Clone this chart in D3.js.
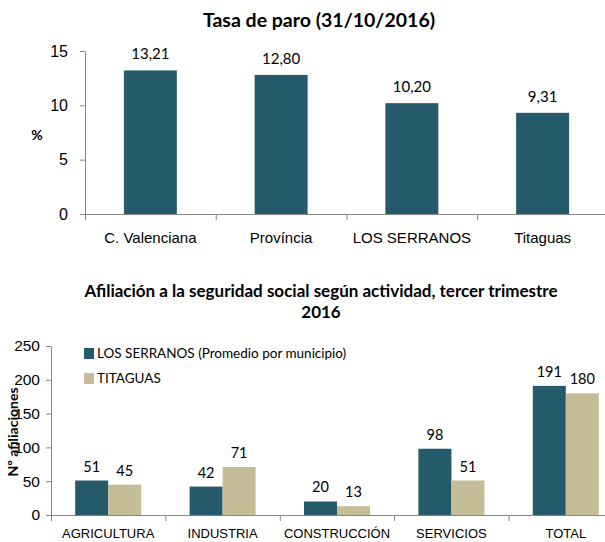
<!DOCTYPE html>
<html>
<head>
<meta charset="utf-8">
<script src="https://cdn.jsdelivr.net/npm/d3@7"></script>
<style>
  body { margin: 0; background: #fff; }
  svg { display: block; font-family: Lato, "Open Sans", sans-serif; }
  .axis path, .axis line { stroke: #868686; }
  .axis text { fill: #000; }
</style>
</head>
<body>
<script>
// top chart data
const paroCats = ["C. Valenciana", "Província", "LOS SERRANOS", "Titaguas"];
const paroValues = [13.21, 12.80, 10.20, 9.31];
const paroTicks = [0, 5, 10, 15];

// bottom chart data
const actCats = ["AGRICULTURA", "INDUSTRIA", "CONSTRUCCIÓN", "SERVICIOS", "TOTAL"];
const seriesNames = ["LOS SERRANOS (Promedio por municipio)", "TITAGUAS"];
const serranosValues = [51, 42, 20, 98, 191];
const titaguasValues = [45, 71, 13, 51, 180];
const afilTicks = [0, 50, 100, 150, 200, 250];

const teal = "#245a69", beige = "#c4bd97";
const comma = v => d3.format(".2f")(v).replace(".", ",");

const svg = d3.select("body").append("svg")
    .attr("width", 605)
    .attr("height", 542);

// ---------- Tasa de paro ----------
let paro = svg.append("g");

paro.append("text")
    .attr("x", 319).attr("y", 27)
    .attr("text-anchor", "middle")
    .style("font-size", "19.5px").style("font-weight", "bold")
    .text("Tasa de paro (31/10/2016)");

let x = d3.scaleBand()
    .domain(paroCats)
    .range([85, 608])
    .paddingInner(0.595)
    .paddingOuter(0.2975);
let xEdge = d3.scaleBand().domain(paroCats).range([85, 608]);

let y = d3.scaleLinear().domain([0, 15]).range([214, 51]);

paro.append("g")
    .attr("class", "axis")
    .attr("transform", "translate(85,0)")
    .call(d3.axisLeft(y).tickValues(paroTicks).tickSize(5).tickSizeOuter(0).tickPadding(12))
    .selectAll("text")
    .style("font-size", "16px");

paro.append("g")
    .attr("class", "axis")
    .attr("transform", "translate(0,214)")
    .call(d3.axisBottom(x).tickSize(0).tickSizeOuter(0).tickPadding(18))
    .selectAll("text")
    .style("font-size", "15px");

paro.selectAll(".edge")
    .data(paroCats)
    .enter()
    .append("line")
    .attr("stroke", "#868686")
    .attr("x1", d => xEdge(d) + 0.5).attr("x2", d => xEdge(d) + 0.5)
    .attr("y1", 214).attr("y2", 220);

paro.append("text")
    .attr("x", 37).attr("y", 140)
    .attr("text-anchor", "middle")
    .style("font-size", "14px").style("font-weight", "bold")
    .text("%");

paro.selectAll(".bar")
    .data(paroValues)
    .enter()
    .append("rect")
    .attr("x", (d, i) => x(paroCats[i]))
    .attr("y", d => y(d))
    .attr("width", x.bandwidth())
    .attr("height", d => y(0) - y(d))
    .attr("fill", teal);

paro.selectAll(".lbl")
    .data(paroValues)
    .enter()
    .append("text")
    .attr("x", (d, i) => x(paroCats[i]) + x.bandwidth() / 2)
    .attr("y", d => y(d) - 11)
    .attr("text-anchor", "middle")
    .style("font-size", "15px")
    .text(d => comma(d));

// ---------- Afiliación ----------
let afil = svg.append("g");

afil.append("text")
    .attr("x", 321).attr("y", 297)
    .attr("text-anchor", "middle")
    .style("font-size", "17px").style("font-weight", "bold")
    .text("Afiliación a la seguridad social según actividad, tercer trimestre");
afil.append("text")
    .attr("x", 321).attr("y", 318)
    .attr("text-anchor", "middle")
    .style("font-size", "17px").style("font-weight", "bold")
    .text("2016");

let x0 = d3.scaleBand()
    .domain(actCats)
    .range([51, 623])
    .paddingInner(0.423)
    .paddingOuter(0.2115);
let x0Edge = d3.scaleBand().domain(actCats).range([51, 623]);
let x1 = d3.scaleBand().domain(seriesNames).range([0, x0.bandwidth()]);

let y2 = d3.scaleLinear().domain([0, 250]).range([515, 346]);

afil.append("g")
    .attr("class", "axis")
    .attr("transform", "translate(51,0)")
    .call(d3.axisLeft(y2).tickValues(afilTicks).tickSize(5).tickSizeOuter(0).tickPadding(6))
    .selectAll("text")
    .style("font-size", "15.5px");

afil.append("g")
    .attr("class", "axis")
    .attr("transform", "translate(0,515)")
    .call(d3.axisBottom(x0).tickSize(0).tickSizeOuter(0).tickPadding(14))
    .selectAll("text")
    .style("font-size", "13px");

afil.selectAll(".edge")
    .data(actCats)
    .enter()
    .append("line")
    .attr("stroke", "#868686")
    .attr("x1", d => x0Edge(d) + 0.5).attr("x2", d => x0Edge(d) + 0.5)
    .attr("y1", 515).attr("y2", 521);

afil.append("text")
    .attr("transform", "translate(18,432) rotate(-90)")
    .attr("text-anchor", "middle")
    .style("font-size", "14px").style("font-weight", "bold")
    .text("Nº afiliaciones");

let series = [
  {name: seriesNames[0], values: serranosValues, color: teal},
  {name: seriesNames[1], values: titaguasValues, color: beige}
];

series.forEach(s => {
  let g = afil.append("g");
  g.selectAll("rect")
      .data(s.values)
      .enter()
      .append("rect")
      .attr("x", (d, i) => x0(actCats[i]) + x1(s.name))
      .attr("y", d => y2(d))
      .attr("width", x1.bandwidth())
      .attr("height", d => y2(0) - y2(d))
      .attr("fill", s.color);
  g.selectAll("text")
      .data(s.values)
      .enter()
      .append("text")
      .attr("x", (d, i) => x0(actCats[i]) + x1(s.name) + x1.bandwidth() / 2)
      .attr("y", d => y2(d) - 9)
      .attr("text-anchor", "middle")
      .style("font-size", "14.5px")
      .text(d => d);
});

// legend
let legend = afil.selectAll(".legend")
    .data(series)
    .enter()
    .append("g")
    .attr("transform", (d, i) => "translate(84," + (348 + i * 25) + ")");
legend.append("rect")
    .attr("width", 10).attr("height", 11)
    .attr("fill", d => d.color);
legend.append("text")
    .attr("x", 13).attr("y", 10)
    .style("font-size", "13.5px")
    .text(d => d.name);
</script>
</body>
</html>
